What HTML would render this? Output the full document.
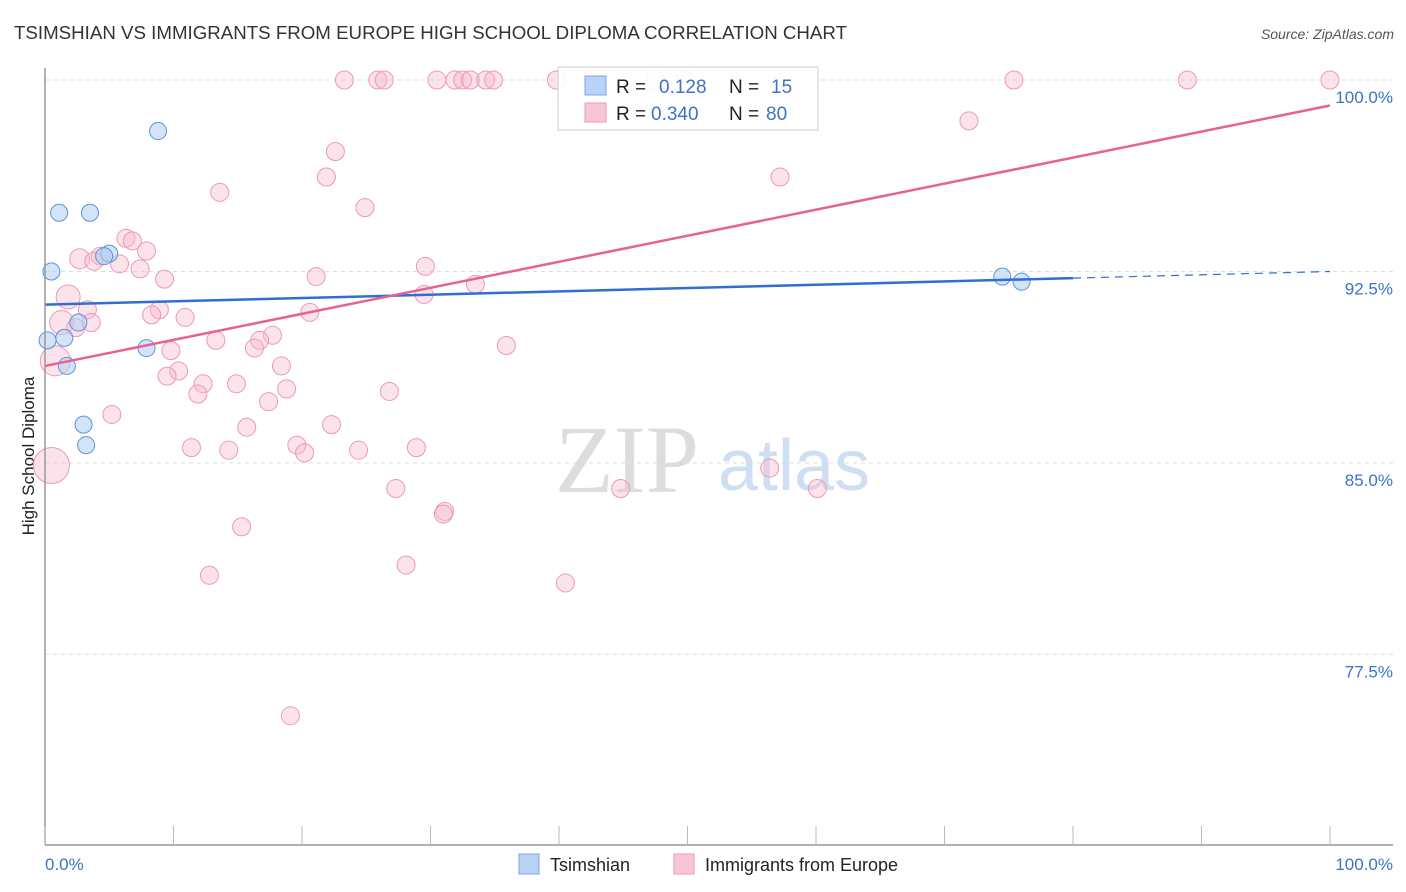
<!DOCTYPE html>
<html><head><meta charset="utf-8"><style>
body{margin:0;background:#fff;font-family:"Liberation Sans",sans-serif}
svg{display:block}
</style></head><body>
<svg id="chart" width="1406" height="892">
<text x="14" y="39" font-size="18" fill="#333" textLength="833" lengthAdjust="spacingAndGlyphs">TSIMSHIAN VS IMMIGRANTS FROM EUROPE HIGH SCHOOL DIPLOMA CORRELATION CHART</text>
<text x="1394" y="39" font-size="14" fill="#555" font-style="italic" text-anchor="end">Source: ZipAtlas.com</text>
<text x="34" y="456" font-size="17" fill="#222" text-anchor="middle" transform="rotate(-90 34 456)">High School Diploma</text>
<g id="grid"></g>
<text x="555" y="492" font-size="96" fill="#ddd" font-family="Liberation Serif,serif">ZIP</text>
<text x="718" y="490" font-size="72" fill="#cfdff3">atlas</text>
<g id="pts"></g>
<g id="lines"></g>
<line x1="45" y1="68" x2="45" y2="845" stroke="#999" stroke-width="1.5"/>
<line x1="45" y1="845" x2="1393" y2="845" stroke="#999" stroke-width="1.5"/>
<g id="xt"></g>
<text x="45" y="870" font-size="17" fill="#3b73c8">0.0%</text>
<text x="1393" y="870" font-size="17" fill="#3b73c8" text-anchor="end">100.0%</text>
<g>
<rect x="558" y="67" width="260" height="63" fill="#fff" fill-opacity="0.9" stroke="#ccc"/>
<rect x="585" y="76" width="21" height="19" fill="#b8d3f5" stroke="#7aa6e0"/>
<rect x="585" y="103" width="21" height="19" fill="#f9c6d6" stroke="#eb9ab4"/>
<text x="616" y="93" font-size="19" fill="#222">R = </text><text x="659" y="93" font-size="19" fill="#3b73c8">0.128</text>
<text x="729" y="93" font-size="19" fill="#222">N = </text><text x="771" y="93" font-size="19" fill="#3b73c8">15</text>
<text x="616" y="120" font-size="19" fill="#222">R = </text><text x="651" y="120" font-size="19" fill="#3b73c8">0.340</text>
<text x="729" y="120" font-size="19" fill="#222">N = </text><text x="766" y="120" font-size="19" fill="#3b73c8">80</text>
</g>
<g>
<rect x="519" y="854" width="20" height="20" fill="#b8d3f5" stroke="#7aa6e0"/>
<text x="550" y="871" font-size="18" fill="#222">Tsimshian</text>
<rect x="674" y="854" width="20" height="20" fill="#f9c6d6" stroke="#eb9ab4"/>
<text x="705" y="871" font-size="18" fill="#222">Immigrants from Europe</text>
</g>
</svg>
<script>
const yTicks=[100,92.5,85,77.5];
const xTicksCount=10;
const blueX=[8.8,1.1,3.5,0.5,5.0,4.6,2.6,1.5,0.2,1.7,7.9,3.0,3.2,74.5,76.0];
const blueY=[98.0,94.8,94.8,92.5,93.2,93.1,90.5,89.9,89.8,88.8,89.5,86.5,85.7,92.3,92.1];
const pinkX=[23.3,25.9,26.4,30.5,31.9,32.5,33.1,34.3,34.9,39.8,47.5,49.8,75.4,88.9,100,71.9,22.6,13.6,21.9,57.2,24.9,6.3,6.8,7.9,2.7,4.3,3.8,5.8,7.4,9.3,21.1,29.6,33.5,29.5,1.8,3.3,8.9,8.3,10.9,1.3,2.4,17.7,13.3,16.7,16.3,9.8,35.9,18.4,10.4,0.8,14.9,12.3,18.8,11.9,26.8,17.4,5.2,22.3,15.7,11.4,14.3,19.6,20.2,24.4,28.9,56.4,27.3,44.8,60.1,31.1,31.0,15.3,28.1,12.8,40.5,19.1,0.5,20.6,3.6,9.5];
const pinkY=[100,100,100,100,100,100,100,100,100,100,100,100,100,100,100,98.4,97.2,95.6,96.2,96.2,95.0,93.8,93.7,93.3,93.0,93.1,92.9,92.8,92.6,92.2,92.3,92.7,92.0,91.6,91.5,91.0,91.0,90.8,90.7,90.5,90.3,90.0,89.8,89.8,89.5,89.4,89.6,88.8,88.6,89.0,88.1,88.1,87.9,87.7,87.8,87.4,86.9,86.5,86.4,85.6,85.5,85.7,85.4,85.5,85.6,84.8,84.0,84.0,84.0,83.1,83.0,82.5,81.0,80.6,80.3,75.1,84.9,90.9,90.5,88.4];
const pinkR=[9,9,9,9,9,9,9,9,9,9,9,9,9,9,9,9,9,9,9,9,9,9,9,9,10,9,9,9,9,9,9,9,9,9,12,9,9,9,9,12,9,9,9,9,9,9,9,9,9,15,9,9,9,9,9,9,9,9,9,9,9,9,9,9,9,9,9,9,9,9,9,9,9,9,9,9,18,9,9,9];
const blueLine=[91.2,92.5];const blueSolidEnd=80;
const pinkLine=[88.8,99.0];
const NS='http://www.w3.org/2000/svg';
const X=v=>45+v*12.85, Y=v=>80+(100-v)*25.53;
function mk(t,a,p){const e=document.createElementNS(NS,t);for(const k in a)e.setAttribute(k,a[k]);p.appendChild(e);return e;}
const g=document.getElementById('grid');
yTicks.forEach(t=>{
 const l=mk('line',{x1:45,x2:1393,y1:Y(t),y2:Y(t),stroke:'#ddd','stroke-dasharray':'4,4'},g);
 
 
 const tx=mk('text',{x:1393,y:Y(t)+23,'font-size':17,fill:'#3b73c8','text-anchor':'end'},g);
 tx.textContent=t.toFixed(1)+'%';
 
 
});
const xt=document.getElementById('xt');
for(let i=0;i<=xTicksCount;i++){const l=mk('line',{x1:X(i*10),x2:X(i*10),y1:826,y2:845,stroke:'#bbb'},xt);
 
 }
const pts=document.getElementById('pts');
pinkX.forEach((v,i)=>{const c=mk('circle',{cx:X(v),cy:Y(pinkY[i]),r:pinkR[i],fill:'#f7b8cc','fill-opacity':0.4,stroke:'#eb9ab4','stroke-width':1},pts);
 
 });
blueX.forEach((v,i)=>{const c=mk('circle',{cx:X(v),cy:Y(blueY[i]),r:8.5,fill:'#b0cdf2','fill-opacity':0.55,stroke:'#5d93dc','stroke-width':1},pts);
 
 });
const L=document.getElementById('lines');
const by=x=>blueLine[0]+(blueLine[1]-blueLine[0])*x/100;
const b1=mk('line',{x1:X(0),y1:Y(by(0)),x2:X(blueSolidEnd),y2:Y(by(blueSolidEnd)),stroke:'#2f6fd0','stroke-width':2.5},L);


const b2=mk('line',{x1:X(blueSolidEnd),y1:Y(by(blueSolidEnd)),x2:X(100),y2:Y(by(100)),stroke:'#2f6fd0','stroke-width':1.2,'stroke-dasharray':'8,6'},L);


const p1=mk('line',{x1:X(0),y1:Y(pinkLine[0]),x2:X(100),y2:Y(pinkLine[1]),stroke:'#e6638f','stroke-width':2.5},L);


</script>
</body></html>
